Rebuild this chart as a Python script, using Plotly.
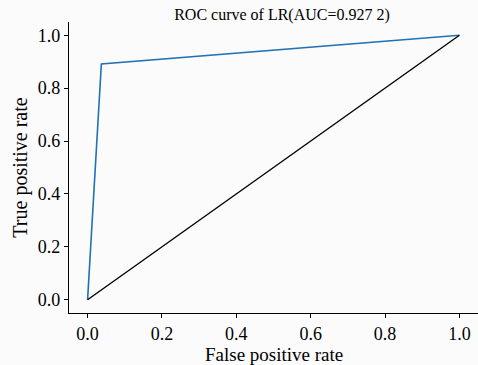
import plotly.graph_objects as go

fpr = [0.0, 0.037, 1.0]
tpr = [0.0, 0.891, 1.0]
diag_x = [0.0, 1.0]
diag_y = [0.0, 1.0]
ticks = [0.0, 0.2, 0.4, 0.6, 0.8, 1.0]
tick_labels = ["0.0", "0.2", "0.4", "0.6", "0.8", "1.0"]
title_text = "ROC curve of LR(AUC=0.927 2)"
x_title = "False positive rate"
y_title = "True positive rate"

font = "Liberation Serif"
bg = "#fbfbfb"

fig = go.Figure()
fig.add_trace(go.Scatter(x=fpr, y=tpr, mode="lines",
                         line=dict(color="#1f72b4", width=1.6), showlegend=False))
fig.add_trace(go.Scatter(x=diag_x, y=diag_y, mode="lines",
                         line=dict(color="#000000", width=1.4), showlegend=False))

axis_common = dict(
    tickmode="array", tickvals=ticks, ticktext=tick_labels, ticks="outside", ticklen=4,
    tickwidth=1.2, tickcolor="black", showline=True, linecolor="black",
    linewidth=1.4, showgrid=False, zeroline=False, mirror=False,
    tickfont=dict(family=font, size=18, color="black"),
    range=[-0.05, 1.05],
)
fig.update_xaxes(**axis_common)
fig.update_yaxes(**axis_common,
                 title=dict(text=y_title, font=dict(family=font, size=20, color="black"), standoff=4))

plot_top, plot_bottom = 22, 313
fig.add_annotation(text=x_title, xref="paper", yref="paper",
                   x=0.5, y=(plot_bottom - 354) / (plot_bottom - plot_top),
                   xanchor="center", yanchor="middle", showarrow=False,
                   font=dict(family=font, size=19, color="black"))

fig.update_layout(
    width=478, height=365,
    font=dict(family=font, size=18, color="black"),
    margin=dict(l=69, r=0, t=plot_top, b=365 - plot_bottom),
    paper_bgcolor=bg, plot_bgcolor=bg,
    title=dict(text=title_text, x=282/478, xanchor="center", y=1-14/365, yanchor="middle",
               font=dict(family=font, size=16, color="black")),
)
fig.write_html("out.html")
